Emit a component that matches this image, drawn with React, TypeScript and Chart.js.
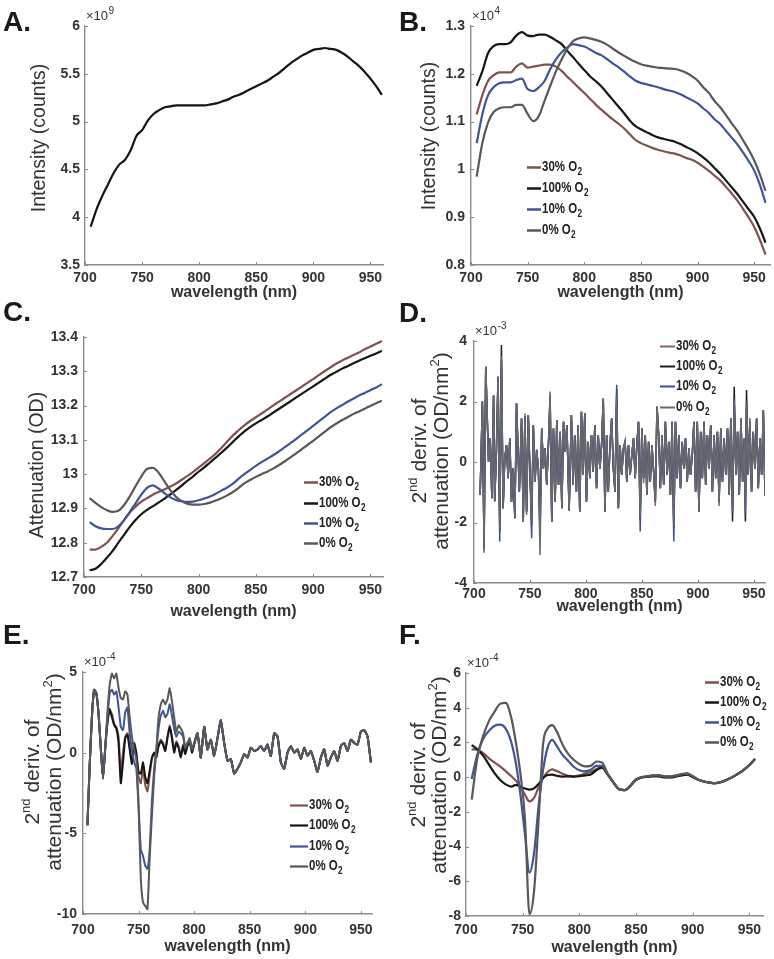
import React, { useEffect, useRef } from "react";
import { Chart, registerables } from "chart.js";

Chart.register(...registerables);

const FONT = '"Liberation Sans", Arial, Helvetica, sans-serif';
const TEXT_COLOR = "#333333";
const AXIS_COLOR = "#8c8c8c";

// ---------- shared ----------
const xTickValues = [700, 750, 800, 850, 900, 950];
const xTickLabels = ["700", "750", "800", "850", "900", "950"];
const xAxisTitle = "wavelength (nm)";
const seriesNames = ["30% O₂", "100% O₂", "10% O₂", "0% O₂"];
const colorsMain = ["#7e534e", "#161616", "#3f5596", "#585858"];
const colorsD = ["#8e625c", "#1c1c1c", "#3c4f90", "#66696f"];

const wl5 = [705, 710, 715, 720, 725, 730, 735, 740, 745, 750, 755, 760, 765, 770, 775, 780, 785, 790, 795, 800, 805, 810, 815, 820, 825, 830, 835, 840, 845, 850, 855, 860, 865, 870, 875, 880, 885, 890, 895, 900, 905, 910, 915, 920, 925, 930, 935, 940, 945, 950, 955, 960];

// ---------- A: intensity (x10^9) ----------
const intensityA = [3.90, 4.08, 4.22, 4.34, 4.46, 4.55, 4.60, 4.70, 4.85, 4.91, 5.01, 5.08, 5.12, 5.15, 5.16, 5.17, 5.17, 5.17, 5.17, 5.17, 5.17, 5.18, 5.19, 5.21, 5.23, 5.26, 5.28, 5.31, 5.34, 5.37, 5.40, 5.43, 5.47, 5.51, 5.56, 5.61, 5.65, 5.69, 5.72, 5.75, 5.76, 5.77, 5.76, 5.75, 5.72, 5.68, 5.63, 5.58, 5.52, 5.45, 5.37, 5.28];
const yTicksA = [3.5, 4, 4.5, 5, 5.5, 6];
const yTickLabelsA = ["3.5", "4", "4.5", "5", "5.5", "6"];

// ---------- B: intensity (x10^4) ----------
const intensityB30 = [1.115, 1.155, 1.185, 1.197, 1.203, 1.203, 1.203, 1.215, 1.222, 1.213, 1.215, 1.217, 1.219, 1.219, 1.215, 1.206, 1.194, 1.183, 1.171, 1.160, 1.148, 1.136, 1.125, 1.115, 1.105, 1.096, 1.086, 1.074, 1.062, 1.055, 1.050, 1.045, 1.041, 1.038, 1.035, 1.033, 1.029, 1.024, 1.020, 1.014, 1.006, 0.997, 0.987, 0.977, 0.964, 0.950, 0.935, 0.918, 0.900, 0.880, 0.853, 0.822];
const intensityB100 = [1.175, 1.205, 1.243, 1.258, 1.262, 1.262, 1.266, 1.280, 1.287, 1.280, 1.279, 1.282, 1.282, 1.277, 1.270, 1.262, 1.248, 1.235, 1.221, 1.208, 1.195, 1.185, 1.174, 1.160, 1.146, 1.132, 1.118, 1.103, 1.091, 1.084, 1.078, 1.072, 1.067, 1.064, 1.061, 1.058, 1.053, 1.047, 1.041, 1.034, 1.025, 1.015, 1.003, 0.991, 0.977, 0.963, 0.949, 0.933, 0.917, 0.901, 0.877, 0.847];
const intensityB10 = [1.055, 1.115, 1.155, 1.172, 1.180, 1.182, 1.182, 1.187, 1.190, 1.168, 1.164, 1.172, 1.185, 1.210, 1.230, 1.245, 1.255, 1.262, 1.260, 1.257, 1.251, 1.244, 1.239, 1.231, 1.222, 1.214, 1.205, 1.195, 1.186, 1.181, 1.178, 1.175, 1.172, 1.168, 1.165, 1.162, 1.157, 1.151, 1.145, 1.138, 1.128, 1.118, 1.105, 1.095, 1.081, 1.067, 1.053, 1.036, 1.018, 0.998, 0.968, 0.930];
const intensityB0 = [0.985, 1.055, 1.098, 1.120, 1.128, 1.130, 1.130, 1.135, 1.135, 1.116, 1.101, 1.112, 1.144, 1.175, 1.205, 1.230, 1.252, 1.268, 1.274, 1.276, 1.274, 1.271, 1.267, 1.261, 1.253, 1.245, 1.238, 1.231, 1.225, 1.220, 1.217, 1.215, 1.213, 1.212, 1.211, 1.210, 1.207, 1.202, 1.195, 1.186, 1.172, 1.160, 1.143, 1.130, 1.114, 1.097, 1.081, 1.062, 1.042, 1.019, 0.990, 0.955];
const yTicksB = [0.8, 0.9, 1, 1.1, 1.2, 1.3];
const yTickLabelsB = ["0.8", "0.9", "1", "1.1", "1.2", "1.3"];

// ---------- C: attenuation (OD) ----------
const attenC30 = [12.780, 12.780, 12.788, 12.800, 12.820, 12.842, 12.866, 12.888, 12.905, 12.920, 12.930, 12.940, 12.948, 12.955, 12.963, 12.972, 12.983, 12.994, 13.006, 13.019, 13.032, 13.046, 13.060, 13.077, 13.095, 13.113, 13.128, 13.142, 13.155, 13.166, 13.177, 13.188, 13.200, 13.211, 13.222, 13.233, 13.244, 13.255, 13.266, 13.277, 13.289, 13.300, 13.311, 13.322, 13.331, 13.339, 13.347, 13.355, 13.364, 13.372, 13.380, 13.388];
const attenC100 = [12.720, 12.724, 12.738, 12.756, 12.776, 12.800, 12.823, 12.846, 12.866, 12.883, 12.896, 12.906, 12.917, 12.928, 12.940, 12.953, 12.966, 12.980, 12.993, 13.007, 13.020, 13.034, 13.048, 13.063, 13.078, 13.094, 13.110, 13.125, 13.137, 13.148, 13.158, 13.168, 13.179, 13.190, 13.201, 13.212, 13.223, 13.234, 13.245, 13.256, 13.267, 13.278, 13.289, 13.298, 13.307, 13.315, 13.323, 13.331, 13.338, 13.345, 13.352, 13.360];
const attenC10 = [12.860, 12.848, 12.842, 12.840, 12.840, 12.848, 12.866, 12.890, 12.915, 12.940, 12.960, 12.967, 12.958, 12.945, 12.933, 12.925, 12.921, 12.919, 12.920, 12.924, 12.929, 12.935, 12.943, 12.952, 12.961, 12.972, 12.987, 13.000, 13.012, 13.024, 13.035, 13.045, 13.055, 13.066, 13.078, 13.090, 13.102, 13.115, 13.128, 13.141, 13.154, 13.167, 13.180, 13.191, 13.201, 13.211, 13.220, 13.229, 13.237, 13.245, 13.253, 13.262];
const attenC0 = [12.930, 12.916, 12.904, 12.895, 12.890, 12.893, 12.910, 12.935, 12.965, 12.993, 13.015, 13.018, 13.005, 12.980, 12.955, 12.935, 12.922, 12.914, 12.911, 12.911, 12.913, 12.917, 12.923, 12.930, 12.938, 12.948, 12.960, 12.973, 12.983, 12.992, 13.000, 13.007, 13.016, 13.026, 13.037, 13.048, 13.060, 13.072, 13.085, 13.097, 13.110, 13.123, 13.136, 13.147, 13.157, 13.166, 13.175, 13.183, 13.191, 13.199, 13.207, 13.214];
const yTicksC = [12.7, 12.8, 12.9, 13, 13.1, 13.2, 13.3, 13.4];
const yTickLabelsC = ["12.7", "12.8", "12.9", "13", "13.1", "13.2", "13.3", "13.4"];

// ---------- D: 2nd derivative (x10^-3) ----------
const wlD = [
  705.5, 707.5, 709, 710.5, 713, 714.5, 716, 717.5, 718.5, 720,
  721.5, 723, 724.5, 726, 727.5, 729, 730.5, 732, 733.5, 735,
  736.5, 738, 740.5, 742.5, 744, 745.5, 747, 748.5, 750, 751.5,
  753, 754.5, 756, 757.5, 759, 760.5, 762, 763.5, 765, 766.5,
  768, 769.5, 771, 772.5, 774, 775.5, 777, 778.5, 780, 781.5,
  783, 785, 787, 788.5, 790, 791.5, 793, 794.5, 796, 797.5,
  799, 800.5, 802, 803.5, 805, 806.5, 808, 809.5, 811, 812.5,
  814, 815.5, 817, 818.5, 820, 821.5, 823, 824.5, 826, 827.5,
  829, 830.5, 832, 833.5, 835, 836.5, 838, 839.5, 841, 842.5,
  844, 845.5, 847, 848.5, 850, 851.5, 853, 854.5, 856, 857.5,
  859, 860.5, 862, 863.5, 865, 866.5, 868, 869.5, 871, 872.5,
  874, 875.5, 877, 878.5, 880, 881.5, 883, 884.5, 886, 887.5,
  889, 890.5, 892, 893.5, 895, 896.5, 898, 899.5, 901, 902.5,
  904, 905.5, 907, 908.5, 910, 911.5, 913, 914.5, 916, 917.5,
  919, 920.5, 922, 923.5, 925, 926.5, 928, 929.5, 931, 932.5,
  934, 935.5, 937, 938.5, 940, 941.5, 942.5, 943.5, 945, 946.5,
  948, 949.5, 951, 952.5, 954, 955.5, 957, 958.5, 960];
const derivD30 = [
  -1.09, 2.0, -2.6, 3.15, 0, 0.78, -1.2, 2.2, -1.3, 0.34,
  2.82, -2.0, 3.3, -1.53, 0.12, 0.56, -0.54, 0.78, -1.31, -0.21,
  -1.86, 1.94, -0.98, 1.44, -1.97, 1.6, -1.75, 1.55, -0.32, -1.9,
  1.22, -0.65, 0.4, -0.21, -2.0, 1.11, -0.21, 0.45, -0.76, 0.56,
  2.0, -1.97, 1.11, -1.31, 1.39, -0.76, 1.0, -1.53, 1.33, 0.34,
  1.22, -1.6, 1.55, -0.76, 0.89, -0.98, 1.22, -1.64, 1.66, -0.43,
  1.61, -1.31, 0.67, -0.54, 0.89, -0.32, 1.22, -0.87, 0.89, -0.21,
  0.56, 2.1, -1.64, 0.89, -0.98, 0.56, 1.44, -0.21, -0.98, 2.2,
  -1.53, 0.56, -0.43, 0.45, 0.67, -0.65, 0.56, -0.43, 0.23, 0.78,
  -0.54, 0.56, 1.33, -1.7, 1.11, -0.7, 0.89, -1.09, 0.67, -0.65,
  0.56, -0.32, -1.45, 1.83, 0.89, -0.87, 0.89, -0.76, 1.33, -0.43,
  0.67, -1.09, 1.33, -2.0, 1.33, -0.54, 0.89, -0.87, 0.67, -0.21,
  0.78, -0.65, 0.45, -0.43, 0.23, 1.33, -0.98, 1.33, -1.64, 1.0,
  -0.54, 1.33, -0.76, 0.89, -0.21, 1.22, -0.98, 0.89, -0.54, 1.0,
  -1.45, 1.11, -0.65, 0.78, -0.43, 1.11, -1.09, 1.44, -1.5, 1.9,
  -0.43, 1.0, -1.09, 1.44, -0.65, 0.78, -1.5, 1.8, -0.43, 1.45,
  -0.98, 1.0, -0.21, 1.44, -0.87, 0.78, -0.43, 1.72, -1.1];
const derivD100 = [
  -1.09, 2.0, -2.9, 3.15, 0, 0.78, -1.2, 2.2, -1.3, 0.34,
  2.82, -2.3, 3.87, -1.53, 0.12, 0.56, -0.54, 0.78, -1.31, -0.21,
  -1.86, 1.94, -0.98, 1.44, -1.97, 1.5, -1.64, 1.55, -0.32, -2.1,
  1.22, -0.65, 0.4, -0.21, -2.2, 1.11, -0.21, 0.45, -0.76, 0.56,
  2.2, -1.97, 1.11, -1.31, 1.39, -0.76, 1.0, -1.53, 1.33, 0.34,
  1.22, -1.6, 1.55, -0.76, 0.89, -0.98, 1.22, -1.64, 1.66, -0.43,
  1.61, -1.31, 0.67, -0.54, 0.89, -0.32, 1.22, -0.87, 0.89, -0.21,
  0.56, 2.1, -1.64, 0.89, -0.98, 0.56, 1.44, -0.21, -0.98, 2.4,
  -1.53, 0.56, -0.43, 0.45, 0.67, -0.65, 0.56, -0.43, 0.23, 0.78,
  -0.54, 0.56, 1.33, -1.9, 1.11, -0.54, 0.89, -1.09, 0.67, -0.65,
  0.56, -0.32, -1.31, 1.83, 0.89, -0.87, 0.89, -0.76, 1.33, -0.43,
  0.67, -1.09, 1.33, -2.2, 1.33, -0.54, 0.89, -0.87, 0.67, -0.21,
  0.78, -0.65, 0.45, -0.43, 0.23, 1.33, -0.98, 1.33, -1.64, 1.0,
  -0.54, 1.33, -0.76, 0.89, -0.21, 1.22, -0.98, 0.89, -0.54, 1.0,
  -1.31, 1.11, -0.65, 0.78, -0.43, 1.11, -1.09, 1.44, -1.97, 2.49,
  -0.43, 1.0, -1.09, 1.44, -0.65, 0.78, -1.97, 2.38, -0.43, 1.33,
  -0.98, 1.0, -0.21, 1.44, -0.87, 0.78, -0.43, 1.72, -1.1];
const derivD10 = [
  -1.09, 2.0, -2.7, 3.15, 0, 0.78, -1.2, 2.2, -1.3, 0.34,
  2.82, -2.63, 3.4, -1.53, 0.12, 0.56, -0.54, 0.78, -1.31, -0.21,
  -1.86, 1.94, -0.98, 1.44, -1.97, 1.5, -1.64, 1.55, -0.32, -2.52,
  1.22, -0.65, 0.4, -0.21, -2.5, 1.11, -0.21, 0.45, -0.76, 0.56,
  2.1, -1.97, 1.11, -1.31, 1.39, -0.76, 1.0, -1.53, 1.33, 0.34,
  1.22, -1.6, 1.55, -0.76, 0.89, -0.98, 1.22, -1.64, 1.66, -0.43,
  1.61, -1.31, 0.67, -0.54, 0.89, -0.32, 1.22, -0.87, 0.89, -0.21,
  0.56, 2.0, -1.64, 0.89, -0.98, 0.56, 1.44, -0.21, -0.98, 2.55,
  -1.53, 0.56, -0.43, 0.45, 0.67, -0.65, 0.56, -0.43, 0.23, 0.78,
  -0.54, 0.56, 1.33, -2.3, 1.11, -0.54, 0.89, -1.09, 0.67, -0.65,
  0.56, -0.32, -1.31, 1.83, 0.89, -0.87, 0.89, -0.76, 1.33, -0.43,
  0.67, -1.09, 1.33, -2.63, 1.33, -0.54, 0.89, -0.87, 0.67, -0.21,
  0.78, -0.65, 0.45, -0.43, 0.23, 1.33, -0.98, 1.33, -1.64, 1.0,
  -0.54, 1.33, -0.76, 0.89, -0.21, 1.22, -0.98, 0.89, -0.54, 1.0,
  -1.31, 1.11, -0.65, 0.78, -0.43, 1.11, -1.09, 1.44, -1.7, 2.1,
  -0.43, 1.0, -1.09, 1.44, -0.65, 0.78, -1.7, 2.0, -0.43, 1.33,
  -0.98, 1.0, -0.21, 1.44, -0.87, 0.78, -0.43, 1.72, -1.1];
const derivD0 = [
  -1.09, 2.0, -3.0, 3.15, 0, 0.78, -1.2, 2.2, -1.3, 0.34,
  2.82, -2.2, 3.5, -1.53, 0.12, 0.56, -0.54, 0.78, -1.31, -0.21,
  -1.86, 1.94, -0.98, 1.44, -1.97, 1.5, -1.64, 1.55, -0.32, -2.0,
  1.22, -0.65, 0.4, -0.21, -3.07, 1.11, -0.21, 0.45, -0.76, 0.56,
  2.33, -1.97, 1.11, -1.31, 1.39, -0.76, 1.0, -1.53, 1.33, 0.34,
  1.22, -1.6, 1.55, -0.76, 0.89, -0.98, 1.22, -1.64, 1.66, -0.43,
  1.61, -1.31, 0.67, -0.54, 0.89, -0.32, 1.22, -0.87, 0.89, -0.21,
  0.56, 2.1, -1.64, 0.89, -0.98, 0.56, 1.44, -0.21, -0.98, 2.2,
  -1.53, 0.56, -0.43, 0.45, 0.67, -0.65, 0.56, -0.43, 0.23, 0.78,
  -0.54, 0.56, 1.33, -1.8, 1.11, -0.54, 0.89, -1.09, 0.67, -0.65,
  0.56, -0.32, -1.31, 1.83, 0.89, -0.87, 0.89, -0.76, 1.33, -0.43,
  0.67, -1.09, 1.33, -2.1, 1.33, -0.54, 0.89, -0.87, 0.67, -0.21,
  0.78, -0.65, 0.45, -0.43, 0.23, 1.33, -0.98, 1.33, -1.64, 1.0,
  -0.54, 1.33, -0.76, 0.89, -0.21, 1.22, -0.98, 0.89, -0.54, 1.0,
  -1.31, 1.11, -0.65, 0.78, -0.43, 1.11, -1.09, 1.44, -1.6, 2.0,
  -0.43, 1.0, -1.09, 1.44, -0.65, 0.78, -1.6, 1.9, -0.43, 1.33,
  -0.98, 1.0, -0.21, 1.44, -0.87, 0.78, -0.43, 1.72, -1.1];
const yTicksD = [-4, -2, 0, 2, 4];
const yTickLabelsD = ["-4", "-2", "0", "2", "4"];

// ---------- E: 2nd derivative, smoothed (x10^-4) ----------
const wlE = [
  704, 706, 708, 710, 712, 714, 716, 718, 720, 722,
  724, 726, 728, 730, 732, 734, 736, 738, 740, 742,
  744, 746, 748, 750, 752, 754, 756, 758, 760, 762,
  764, 766, 768, 770, 772, 774, 776, 778, 780, 782,
  784, 786, 788, 790, 792, 794, 796, 798, 800,
  803, 806, 809, 812, 815, 818, 821, 824, 827, 830,
  833, 836, 839, 842, 845, 848, 851, 854, 857, 860,
  863, 866, 869, 872, 875, 878, 881, 884, 887, 890,
  893, 896, 899, 902, 905, 908, 911, 914, 917, 920,
  923, 926, 929, 932, 935, 938, 941, 944, 947, 950,
  953, 956, 959];
// beyond 800 nm the four curves coincide
const derivETail = [
  1.2, -0.3, 1.6, 0.2, 0.8, -0.2, 0.9, 2.0, 0.6, -0.5,
  -0.4, -1.3, -1.0, -0.6, -0.1, -0.3, 0.3, 0.1, 0.2, 0.4,
  0.1, 0.5, -0.2, 1.2, 1.0, -0.6, -1.0, 0.0, 0.4, 0.0,
  0.2, -0.4, 0.3, -0.2, 0.1, -0.5, -1.2, -0.3, 0.2, -0.8,
  -0.3, 0.1, -0.5, 0.4, 0.6, 0.1, 0.8, 0.6, 0.5, 1.3,
  1.4, 1.0, -0.6];
const derivE30 = [
  -4.5, -0.8, 2.2, 3.9, 3.7, 2.4, 0.3, -1.6, 0.3, 1.8,
  2.6, 2.4, 1.8, 1.6, 1.0, -1.2, 0.0, 1.0, 1.2, 0.4,
  -0.5, 0.4, -0.2, -1.5, -1.9, -1.0, -2.0, -2.4, -1.4, -0.4,
  0.0, -0.2, 0.5, 0.8, 0.6, 0.2, 1.0, 1.7, 1.0, 0.2,
  0.7, 0.4, -0.2, 0.5, 0.0, 0.5, 0.7, 0.1, 0.5,
  ...derivETail];
const derivE100 = [
  -4.5, -0.8, 2.2, 3.9, 3.7, 2.4, 0.3, -1.6, 0.3, 1.9,
  2.7, 2.2, 1.7, 1.5, 0.6, -1.9, -0.6, 0.9, 1.1, 0.2,
  -0.7, 0.6, 0.0, -1.2, -1.3, -0.6, -1.5, -1.9, -1.1, -0.3,
  0.0, -0.3, 0.4, 0.7, 0.5, 0.1, 0.9, 1.6, 0.9, 0.0,
  0.6, 0.3, -0.3, 0.4, -0.1, 0.4, 0.7, 0.0, 0.5,
  ...derivETail];
const derivE10 = [
  -4.5, -0.8, 2.2, 3.9, 3.7, 2.4, 0.3, -1.6, 0.3, 2.2,
  3.7, 3.9, 3.6, 3.8, 2.8, 1.6, 1.4, 2.5, 2.8, 1.2,
  0.2, -0.6, -1.0, -3.3, -6.0, -6.4, -7.0, -7.2, -6.0, -3.0,
  -1.0, 0.2, 1.5, 2.3, 2.6, 2.2, 2.4, 3.0, 2.3, 1.5,
  1.0, 1.3, 1.2, 1.0, 0.3, 0.6, 0.8, 0.2, 0.6,
  ...derivETail];
const derivE0 = [
  -4.5, -0.8, 2.2, 3.9, 3.7, 2.4, 0.3, -1.6, 0.3, 2.5,
  4.2, 4.9, 4.6, 4.9, 4.0, 3.4, 3.3, 3.8, 3.6, 2.2,
  1.0, 0.2, -0.4, -3.3, -7.8, -9.3, -9.5, -9.7, -6.5, -3.9,
  -1.5, 0.2, 2.2, 3.0, 3.3, 3.0, 3.3, 4.0, 3.2, 2.2,
  1.3, 1.7, 1.5, 1.2, 0.3, 0.6, 0.9, 0.2, 0.6,
  ...derivETail];
const yTicksE = [-10, -5, 0, 5];
const yTickLabelsE = ["-10", "-5", "0", "5"];

// ---------- F: 2nd derivative, filtered (x10^-4) ----------
const wlF = [705, 710, 715, 720, 725, 730, 735, 740, 744, 748, 752, 756, 760, 764, 768, 772, 776, 780, 785, 790, 795, 800, 805, 810, 815, 820, 825, 830, 835, 840, 845, 850, 855, 860, 865, 870, 875, 880, 885, 890, 895, 900, 905, 910, 915, 920, 925, 930, 935, 940, 945, 950, 955];
const derivF30 = [1.60, 1.58, 1.40, 1.10, 0.85, 0.62, 0.35, 0.05, -0.20, -0.54, -1.00, -1.40, -1.20, -0.60, -0.05, 0.30, 0.45, 0.35, 0.20, 0.08, 0.05, 0.10, 0.20, 0.30, 0.45, 0.60, 0.15, -0.30, -0.70, -0.75, -0.50, -0.15, -0.02, 0.02, 0.08, 0.08, 0.00, 0.00, 0.05, 0.12, 0.18, 0.02, -0.15, -0.25, -0.32, -0.35, -0.28, -0.15, 0.00, 0.20, 0.42, 0.70, 1.05];
const derivF100 = [1.85, 1.60, 1.25, 0.75, 0.25, -0.15, -0.42, -0.55, -0.45, -0.55, -0.65, -0.72, -0.65, -0.40, -0.05, 0.12, 0.15, 0.08, 0.03, 0.05, 0.03, 0.05, 0.10, 0.15, 0.40, 0.55, 0.15, -0.30, -0.70, -0.75, -0.50, -0.15, -0.02, 0.02, 0.05, 0.05, -0.02, -0.02, 0.03, 0.10, 0.15, 0.00, -0.15, -0.25, -0.32, -0.35, -0.28, -0.15, 0.00, 0.20, 0.42, 0.70, 1.05];
const derivF10 = [-0.10, 1.30, 2.20, 2.65, 2.95, 3.02, 2.80, 2.00, 0.80, -1.00, -3.30, -5.50, -4.40, -1.70, 0.40, 1.70, 2.15, 1.80, 1.30, 0.95, 0.60, 0.40, 0.33, 0.42, 0.65, 0.65, 0.15, -0.30, -0.70, -0.75, -0.50, -0.15, 0.00, 0.05, 0.10, 0.10, 0.03, 0.03, 0.08, 0.15, 0.20, 0.05, -0.15, -0.25, -0.32, -0.35, -0.28, -0.15, 0.00, 0.20, 0.42, 0.70, 1.05];
const derivF0 = [-1.30, 1.10, 2.35, 3.20, 3.75, 4.22, 4.28, 3.40, 2.00, 0.20, -2.40, -7.90, -6.60, -2.50, 1.90, 2.80, 3.00, 2.65, 1.90, 1.35, 1.00, 0.75, 0.62, 0.65, 0.90, 0.85, 0.20, -0.30, -0.70, -0.75, -0.50, -0.15, 0.00, 0.05, 0.10, 0.12, 0.05, 0.05, 0.10, 0.18, 0.22, 0.05, -0.15, -0.25, -0.32, -0.35, -0.28, -0.15, 0.00, 0.20, 0.42, 0.70, 1.05];
const yTicksF = [-8, -6, -4, -2, 0, 2, 4, 6];
const yTickLabelsF = ["-8", "-6", "-4", "-2", "0", "2", "4", "6"];

// ---------- panel setup ----------
type Seg = { t: string; sup?: boolean };
type Series = { name: string; x: number[]; y: number[]; color: string; width: number };
interface PanelCfg {
  key: string;
  letter: string;
  letterX: number;
  letterBase: number;
  left: number;
  top: number;
  w: number;
  h: number;
  area: { l: number; r: number; t: number; b: number };
  xMax: number;
  yMin: number;
  yMax: number;
  yTicks: number[];
  yTickLabels: string[];
  yTickPad: number;
  xTickPad: number;
  xTitlePad: number;
  exponent: string | null;
  yTitle: { lines: Seg[][]; xs: number[]; cy: number; size: number };
  series: Series[];
  tension: number;
  monotone: boolean;
  legend: null | { x0: number; x1: number; tx: number; rows: number[]; lineWidth: number };
}

const derivTitle: Seg[][] = [
  [{ t: "2" }, { t: "nd", sup: true }, { t: " deriv. of" }],
  [{ t: "attenuation (OD/nm" }, { t: "2", sup: true }, { t: ")" }],
];

function four(x: number[], ys: number[][], colors: string[], width: number): Series[] {
  return ys.map((y, i) => ({ name: seriesNames[i], x, y, color: colors[i], width }));
}

const panels: PanelCfg[] = [
  {
    key: "A", letter: "A.", letterX: 3, letterBase: 32,
    left: 0, top: 0, w: 387, h: 310,
    area: { l: 85, r: 383, t: 26, b: 265 }, xMax: 961,
    yMin: 3.5, yMax: 6, yTicks: yTicksA, yTickLabels: yTickLabelsA,
    yTickPad: 5, xTickPad: 4.6, xTitlePad: 7.4, exponent: "9",
    yTitle: { lines: [[{ t: "Intensity (counts)" }]], xs: [40], cy: 138, size: 19.5 },
    series: [{ name: "Intensity", x: wl5, y: intensityA, color: "#141414", width: 2.2 }],
    tension: 0, monotone: true, legend: null,
  },
  {
    key: "B", letter: "B.", letterX: 399, letterBase: 32,
    left: 387, top: 0, w: 387, h: 310,
    area: { l: 84, r: 383, t: 26, b: 265 }, xMax: 964,
    yMin: 0.8, yMax: 1.3, yTicks: yTicksB, yTickLabels: yTickLabelsB,
    yTickPad: 6, xTickPad: 4.6, xTitlePad: 7.4, exponent: "4",
    yTitle: { lines: [[{ t: "Intensity (counts)" }]], xs: [43], cy: 136, size: 19.5 },
    series: four(wl5, [intensityB30, intensityB100, intensityB10, intensityB0], colorsMain, 2.2),
    tension: 0, monotone: true,
    legend: { x0: 140, x1: 154, tx: 155, rows: [167, 188, 209, 230], lineWidth: 2.5 },
  },
  {
    key: "C", letter: "C.", letterX: 3, letterBase: 322,
    left: 0, top: 310, w: 387, h: 330,
    area: { l: 84, r: 383, t: 27, b: 267 }, xMax: 961,
    yMin: 12.7, yMax: 13.4, yTicks: yTicksC, yTickLabels: yTickLabelsC,
    yTickPad: 6, xTickPad: 4.6, xTitlePad: 18.4, exponent: null,
    yTitle: { lines: [[{ t: "Attenuation (OD)" }]], xs: [38], cy: 155, size: 19.5 },
    series: four(wl5, [attenC30, attenC100, attenC10, attenC0], colorsMain, 2.2),
    tension: 0, monotone: true,
    legend: { x0: 304, x1: 318, tx: 319, rows: [172, 193, 213, 233], lineWidth: 2.5 },
  },
  {
    key: "D", letter: "D.", letterX: 399, letterBase: 323,
    left: 387, top: 310, w: 387, h: 330,
    area: { l: 87, r: 378, t: 31, b: 273 }, xMax: 960,
    yMin: -4, yMax: 4, yTicks: yTicksD, yTickLabels: yTickLabelsD,
    yTickPad: 7, xTickPad: 2.6, xTitlePad: 23.4, exponent: "-3",
    yTitle: { lines: derivTitle, xs: [33, 55], cy: 141, size: 21 },
    series: four(wlD, [derivD30, derivD100, derivD10, derivD0], colorsD, 1.5),
    tension: 0, monotone: false,
    legend: { x0: 273, x1: 288, tx: 289, rows: [36, 56, 76, 97], lineWidth: 2 },
  },
  {
    key: "E", letter: "E.", letterX: 3, letterBase: 645,
    left: 0, top: 640, w: 387, h: 319,
    area: { l: 83, r: 372, t: 32, b: 274 }, xMax: 960,
    yMin: -10, yMax: 5, yTicks: yTicksE, yTickLabels: yTickLabelsE,
    yTickPad: 6, xTickPad: 7.6, xTitlePad: 2.4, exponent: "-4",
    yTitle: { lines: derivTitle, xs: [33, 55], cy: 132, size: 21 },
    series: four(wlE, [derivE30, derivE100, derivE10, derivE0], colorsMain, 2),
    tension: 0.15, monotone: false,
    legend: { x0: 290, x1: 308, tx: 309, rows: [165, 185, 206, 226], lineWidth: 2.2 },
  },
  {
    key: "F", letter: "F.", letterX: 399, letterBase: 645,
    left: 387, top: 640, w: 387, h: 319,
    area: { l: 79, r: 376, t: 33, b: 276 }, xMax: 962,
    yMin: -8, yMax: 6, yTicks: yTicksF, yTickLabels: yTickLabelsF,
    yTickPad: 5, xTickPad: 5.6, xTitlePad: 1.4, exponent: "-4",
    yTitle: { lines: derivTitle, xs: [32, 53], cy: 135, size: 21 },
    series: four(wlF, [derivF30, derivF100, derivF10, derivF0], colorsMain, 2.2),
    tension: 0, monotone: true,
    legend: { x0: 318, x1: 332, tx: 333, rows: [42, 62, 82, 102], lineWidth: 2.5 },
  },
];

function drawRichLine(ctx: CanvasRenderingContext2D, segs: Seg[], size: number, weight: string) {
  const supSize = Math.round(size * 0.62);
  let total = 0;
  const widths = segs.map((s) => {
    ctx.font = `${weight} ${s.sup ? supSize : size}px ${FONT}`;
    const wdt = ctx.measureText(s.t).width;
    total += wdt;
    return wdt;
  });
  let x = -total / 2;
  segs.forEach((s, i) => {
    ctx.font = `${weight} ${s.sup ? supSize : size}px ${FONT}`;
    ctx.fillText(s.t, x, s.sup ? -size * 0.32 : 0);
    x += widths[i];
  });
}

function decorPlugin(cfg: PanelCfg) {
  return {
    id: "decor" + cfg.key,
    afterDraw(chart: any) {
      const ctx: CanvasRenderingContext2D = chart.ctx;
      const a = chart.chartArea;
      const xs = chart.scales.x;
      const ys = chart.scales.y;
      ctx.save();
      // inward tick marks (MATLAB style)
      ctx.strokeStyle = AXIS_COLOR;
      ctx.lineWidth = 1;
      ctx.beginPath();
      for (const v of xTickValues) {
        const p = Math.round(xs.getPixelForValue(v)) + 0.5;
        ctx.moveTo(p, a.bottom);
        ctx.lineTo(p, a.bottom - 3);
      }
      for (const v of cfg.yTicks) {
        const p = Math.round(ys.getPixelForValue(v)) + 0.5;
        ctx.moveTo(a.left, p);
        ctx.lineTo(a.left + 3, p);
      }
      ctx.stroke();

      ctx.fillStyle = TEXT_COLOR;
      // exponent label
      if (cfg.exponent) {
        ctx.textAlign = "left";
        ctx.textBaseline = "alphabetic";
        ctx.font = `13px ${FONT}`;
        const base = "×10";
        const bx = a.left + 1;
        const by = a.top - 6;
        ctx.fillText(base, bx, by);
        const bw = ctx.measureText(base).width;
        ctx.font = `10px ${FONT}`;
        ctx.fillText(cfg.exponent, bx + bw + 0.5, by - 6);
      }

      // y-axis title (rotated, may contain superscripts)
      ctx.textAlign = "left";
      ctx.textBaseline = "middle";
      cfg.yTitle.lines.forEach((segs, i) => {
        ctx.save();
        ctx.translate(cfg.yTitle.xs[i], cfg.yTitle.cy);
        ctx.rotate(-Math.PI / 2);
        drawRichLine(ctx, segs, cfg.yTitle.size, "normal");
        ctx.restore();
      });

      // legend
      if (cfg.legend) {
        const lg = cfg.legend;
        cfg.series.forEach((s, i) => {
          const y = lg.rows[i];
          ctx.strokeStyle = s.color;
          ctx.lineWidth = lg.lineWidth;
          ctx.beginPath();
          ctx.moveTo(lg.x0, y + 0.5);
          ctx.lineTo(lg.x1, y + 0.5);
          ctx.stroke();
          const main = s.name.replace("₂", "");
          ctx.save();
          ctx.translate(lg.tx, y);
          ctx.scale(0.82, 1);
          ctx.fillStyle = "#222222";
          ctx.textBaseline = "middle";
          ctx.font = `bold 14px ${FONT}`;
          ctx.fillText(main, 0, 0);
          const mw = ctx.measureText(main).width;
          ctx.font = `bold 10px ${FONT}`;
          ctx.fillText("2", mw + 0.5, 5);
          ctx.restore();
        });
      }
      ctx.restore();
    },
  };
}

function Panel({ cfg }: { cfg: PanelCfg }) {
  const ref = useRef<HTMLCanvasElement>(null);
  useEffect(() => {
    const canvas = ref.current;
    if (!canvas) return;
    const { w, h, area } = cfg;
    const tickFont = { family: FONT, size: 14, weight: "bold" as const };
    const chart = new Chart(canvas, {
      type: "line",
      data: {
        datasets: cfg.series.map((s, i) => ({
          label: s.name,
          data: s.x.map((xv, k) => ({ x: xv, y: s.y[k] })),
          borderColor: s.color,
          backgroundColor: s.color,
          borderWidth: s.width,
          pointRadius: 0,
          fill: false,
          tension: cfg.tension,
          cubicInterpolationMode: cfg.monotone ? "monotone" : "default",
          order: cfg.series.length - 1 - i,
        })),
      },
      options: {
        responsive: false,
        animation: false,
        devicePixelRatio: 1,
        events: [],
        layout: { padding: { left: 0, right: w - area.r, top: area.t, bottom: 0 } },
        plugins: { legend: { display: false }, tooltip: { enabled: false } },
        scales: {
          x: {
            type: "linear",
            position: "bottom",
            min: 700,
            max: cfg.xMax,
            afterBuildTicks: (s: any) => {
              s.ticks = xTickValues.map((v) => ({ value: v }));
            },
            afterFit: (s: any) => {
              s.height = h - area.b;
            },
            ticks: {
              autoSkip: false,
              maxRotation: 0,
              padding: cfg.xTickPad,
              color: TEXT_COLOR,
              font: tickFont,
              callback: (_v: any, i: number) => xTickLabels[i],
            },
            grid: { display: false, drawTicks: false },
            border: { display: true, color: AXIS_COLOR, width: 1.4 },
            title: {
              display: true,
              text: xAxisTitle,
              color: TEXT_COLOR,
              font: { family: FONT, size: 16, weight: "bold" },
              padding: { top: 0, bottom: cfg.xTitlePad },
            },
          },
          y: {
            type: "linear",
            position: "left",
            min: cfg.yMin,
            max: cfg.yMax,
            afterBuildTicks: (s: any) => {
              s.ticks = cfg.yTicks.map((v) => ({ value: v }));
            },
            afterFit: (s: any) => {
              s.width = area.l;
            },
            ticks: {
              autoSkip: false,
              padding: cfg.yTickPad,
              color: TEXT_COLOR,
              font: tickFont,
              callback: (_v: any, i: number) => cfg.yTickLabels[i],
            },
            grid: { display: false, drawTicks: false },
            border: { display: true, color: AXIS_COLOR, width: 1.4 },
          },
        },
      },
      plugins: [decorPlugin(cfg)],
    } as any);
    return () => chart.destroy();
  }, [cfg]);
  return (
    <canvas
      ref={ref}
      width={cfg.w}
      height={cfg.h}
      style={{ position: "absolute", left: cfg.left, top: cfg.top, width: cfg.w, height: cfg.h }}
    />
  );
}

export default function App() {
  return (
    <div
      style={{
        position: "absolute",
        left: 0,
        top: 0,
        width: 774,
        height: 959,
        background: "#ffffff",
        overflow: "hidden",
      }}
    >
      {panels.map((p) => (
        <Panel key={p.key} cfg={p} />
      ))}
      {panels.map((p) => (
        <div
          key={"letter" + p.key}
          style={{
            position: "absolute",
            left: p.letterX,
            top: p.letterBase - 24,
            font: `bold 28px ${FONT}`,
            lineHeight: "28px",
            color: "#1a1a1a",
            whiteSpace: "nowrap",
          }}
        >
          {p.letter}
        </div>
      ))}
    </div>
  );
}
